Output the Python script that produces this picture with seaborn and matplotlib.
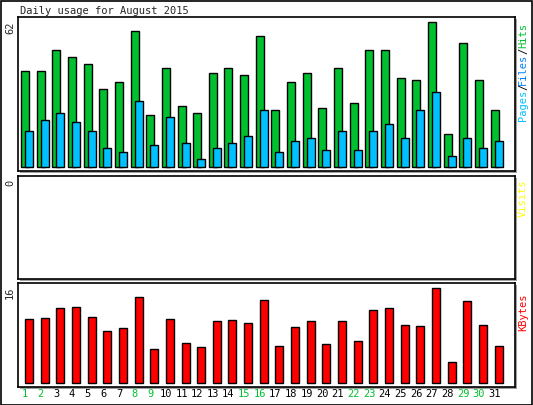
import numpy as np
import pandas as pd
import matplotlib
matplotlib.use("Agg")
import matplotlib.pyplot as plt
import seaborn as sns

days = list(range(1, 32))
hits = [41, 41, 50, 47, 44, 33.4, 36.3, 58.2, 22.2, 42.3, 26.1, 23.1, 40.2, 42.3, 39.3, 56,
        24.4, 36.3, 40.2, 25.2, 42.3, 27.4, 50, 50, 38, 37.2, 62, 14.1, 53, 37.2, 24.4]
files = [15.4, 20.1, 23.1, 19.2, 15.4, 8.1, 6.4, 28.2, 9.4, 21.4, 10.3, 3.4, 8.1, 10.3, 13.3, 24.4,
         6.4, 11.1, 12.4, 7.3, 15.4, 7.3, 15.4, 18.4, 12.4, 24.4, 32.1, 5.1, 12.4, 8.1, 11.1]
kbytes = [10.8, 10.9, 12.6, 12.8, 11.1, 8.8, 9.3, 14.5, 5.7, 10.8, 6.7, 6.1, 10.4, 10.6, 10.1, 14,
          6.2, 9.4, 10.4, 6.6, 10.4, 7.1, 12.3, 12.6, 9.8, 9.6, 16, 3.5, 13.8, 9.8, 6.2]
weekend = [1, 2, 8, 9, 15, 16, 22, 23, 29, 30]

df = pd.DataFrame({"day": days, "hits": hits, "files": files, "kbytes": kbytes})

sns.set_style("white")
plt.rcParams['font.family'] = ['DejaVu Sans Mono']

W, H = 533, 405
fig = plt.figure(figsize=(W / 100, H / 100), dpi=100)
fig.patch.set_facecolor("white")

def axes_px(x0, y0, x1, y1):
    return fig.add_axes([x0 / W, 1 - y1 / H, (x1 - x0) / W, (y1 - y0) / H])

# outer border
fig.add_artist(plt.Rectangle((0.5 / W, 0.5 / H), 1 - 1.5 / W, 1 - 1.5 / H, transform=fig.transFigure,
                             fill=False, ec="black", lw=1.2))

# shadows
for (y0, y1) in [(17, 171), (176, 279), (283, 387)]:
    fig.add_artist(plt.Rectangle(((18 + 2) / W, 1 - (y1 + 2) / H), 497 / W, (y1 - y0) / H,
                                 transform=fig.transFigure, fc="#a0a0a0", ec="none", zorder=0))

ax1 = axes_px(18, 17, 515, 171)
ax2 = axes_px(18, 176, 515, 279)
ax3 = axes_px(18, 283, 515, 387)

unit = 15.65
a = 1 - 9 / unit
b = a + 497 / unit
bw = 8 / unit
off = 2 / unit

x = df["day"].to_numpy(dtype=float)
ax1.bar(x - off, df["hits"], width=bw, color="#00c030", edgecolor="black", lw=1)
ax1.bar(x + off, df["files"], width=bw, color="#00c0ff", edgecolor="black", lw=1)
ax1.set_xlim(a, b)
ax1.set_ylim(-1.5, 64.1)

ax2.set_xlim(a, b)
ax2.set_ylim(0, 1)

sns.barplot(data=df, x="day", y="kbytes", ax=ax3, color="red", edgecolor="black", lw=1,
            width=bw, native_scale=True, saturation=1)
ax3.set_xlim(a - 2 / unit, b - 2 / unit)
ax3.set_ylim(-0.67, 16.84)

for ax in (ax1, ax2, ax3):
    ax.set_facecolor("white")
    ax.set_xticks([])
    ax.set_yticks([])
    ax.set_xlabel("")
    ax.set_ylabel("")
    for s in ax.spines.values():
        s.set_color("black")
        s.set_linewidth(1.2)
        s.set_visible(True)

fs = 7.5
fig.text(20 / W, 1 - 11 / H, "Daily usage for August 2015", fontsize=fs, va="center", ha="left")
fig.text(10 / W, 1 - 28 / H, "62", rotation=90, fontsize=fs, ha="center", va="center")
fig.text(10 / W, 1 - 183 / H, "0", rotation=90, fontsize=fs, ha="center", va="center")
fig.text(10 / W, 1 - 293 / H, "16", rotation=90, fontsize=fs, ha="center", va="center")

for txt, yc, col in [("Pages", 105, "#00c0ff"), ("/", 87, "black"), ("Files", 69, "#0080ff"),
                     ("/", 51, "black"), ("Hits", 36, "#00c030")]:
    fig.text(523 / W, 1 - yc / H, txt, rotation=90, fontsize=fs, color=col, ha="center", va="center")
fig.text(523 / W, 1 - 198 / H, "Visits", rotation=90, fontsize=fs, color="#ffff00", ha="center", va="center")
fig.text(523 / W, 1 - 312 / H, "KBytes", rotation=90, fontsize=fs, color="red", ha="center", va="center")

for d in days:
    px = 25 + (d - 1) * unit
    fig.text(px / W, 1 - 394 / H, str(d), fontsize=fs, ha="center", va="center",
             color="#00c030" if d in weekend else "black")

fig.savefig("out.png", dpi=100)
